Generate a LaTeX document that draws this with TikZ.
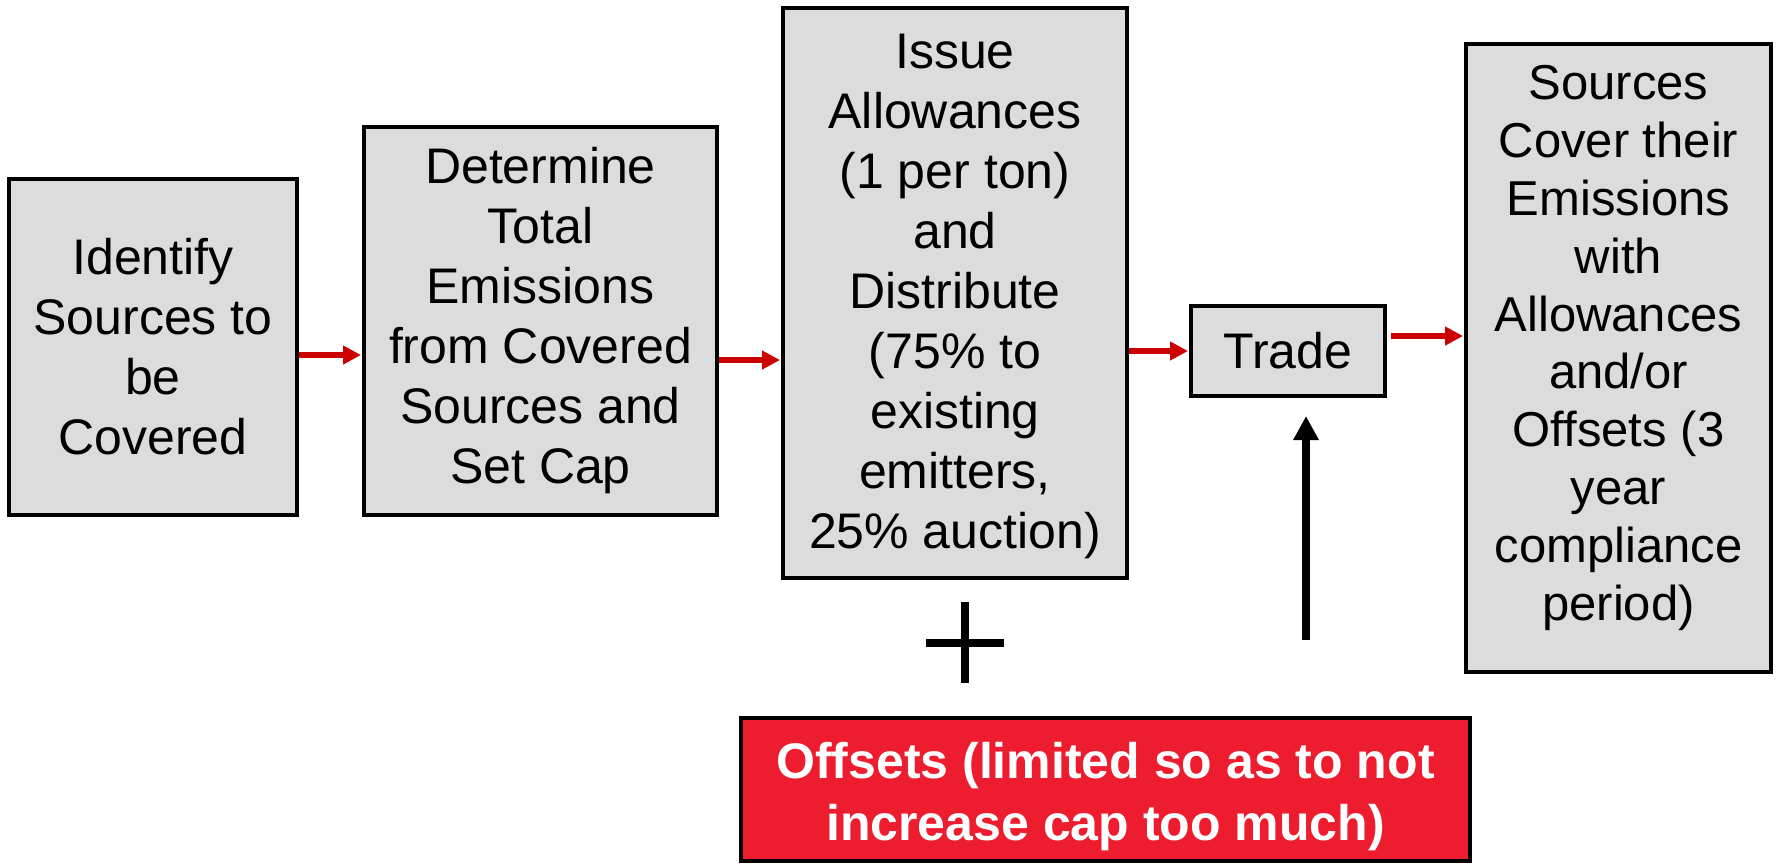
\documentclass[tikz,border=0pt]{standalone}
\usepackage{fontspec}
\setmainfont{Liberation Sans}
\usetikzlibrary{arrows.meta}
\definecolor{boxgray}{RGB}{220,220,220}
\definecolor{arrowred}{RGB}{204,0,0}
\definecolor{offred}{RGB}{237,28,46}
\tikzset{
  stepbox/.style={draw=black, line width=2pt, fill=boxgray, rectangle, inner sep=0pt},
  txt/.style={align=center, inner sep=0pt, font=\fontsize{25pt}{30pt}\selectfont},
  redarrow/.style={draw=arrowred, line width=3pt, -{Triangle[length=9pt,width=9pt]}, shorten >=0.5pt},
  blackarrow/.style={draw=black, line width=4pt, -{Triangle[length=12pt,width=12pt]}},
  plusbar/.style={draw=black, line width=3.75pt}
}
\begin{document}
\begin{tikzpicture}[x=0.5pt,y=-0.5pt]
\useasboundingbox (0,0) rectangle (1777,863);
% boxes
\node[stepbox, minimum width=144pt, minimum height=168pt] (b1) at (153,347) {};
\node[txt] (t1) at (b1.center) {Identify\\Sources to\\be\\Covered};
\node[stepbox, minimum width=176.5pt, minimum height=194pt] (b2) at (540.5,321) {};
\node[txt] (t2) at (b2.center) {Determine\\Total\\Emissions\\from Covered\\Sources and\\Set Cap};
\node[stepbox, minimum width=172pt, minimum height=285pt] (b3) at (955,293) {};
\node[txt] (t3) at ([yshift=-1.5pt]b3.center) {Issue\\Allowances\\(1 per ton)\\and\\Distribute\\(75\% to\\existing\\emitters,\\25\% auction)};
\node[stepbox, minimum width=97pt, minimum height=45pt] (trade) at (1288,351) {};
\node[txt] (t4) at (trade.center) {Trade};
\node[stepbox, minimum width=152.5pt, minimum height=314pt] (b5) at (1618.5,358) {};
\node[txt, font=\fontsize{24.5pt}{28.9pt}\selectfont] (t5) at ([yshift=5pt]b5.center) {Sources\\Cover their\\Emissions\\with\\Allowances\\and/or\\Offsets (3\\year\\compliance\\period)};
\node[draw=black, line width=2pt, fill=offred, rectangle, inner sep=0pt, minimum width=364.5pt, minimum height=71.5pt] (off) at (1105.5,789.5) {};
\node[txt, text=white, font=\fontsize{25pt}{31pt}\selectfont\bfseries] (t6) at ([yshift=-3.5pt]off.center) {Offsets (limited so as to not\\increase cap too much)};
% red arrows
\draw[redarrow] (b1.east |- 0,355) -- (b2.west |- 0,355);
\draw[redarrow] (b2.east |- 0,360) -- (b3.west |- 0,360);
\draw[redarrow] (b3.east |- trade.west) -- (trade.west);
\draw[redarrow] ([xshift=2pt]trade.east |- 0,336) -- (b5.west |- 0,336);
% black arrow
\coordinate (abot) at (1306,640);
\coordinate (atop) at (1306,416);
\draw[blackarrow] (abot) -- (atop);
% plus sign
\coordinate (pl) at (926,643);
\coordinate (pr) at (1004,643);
\coordinate (pt) at (965,602);
\coordinate (pb) at (965,683);
\draw[plusbar] (pl) -- (pr);
\draw[plusbar] (pt) -- (pb);
\end{tikzpicture}
\end{document}
